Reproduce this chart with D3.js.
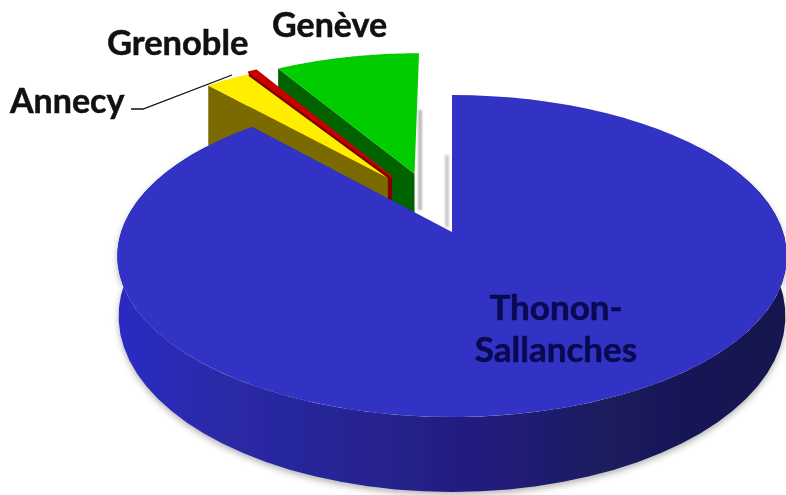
<!DOCTYPE html>
<html>
<head>
<meta charset="utf-8">
<script src="https://cdn.jsdelivr.net/npm/d3@7"></script>
<style>
  html, body { margin: 0; background: #fff; }
  text { font-family: Lato, "Open Sans", sans-serif; font-weight: 700; }
</style>
</head>
<body>
<div id="chart"></div>
<script>
// values (percent of the pie)
var cities = ["Thonon-Sallanches", "Annecy", "Grenoble", "Genève"];
var shares = [88.3, 2.6, 0.5, 8.6];

var width = 786, height = 495;

// colours per slice: top face, side wall
var topColors = ["#3030c4", "#ffee00", "#c80000", "#00cc00"];
var wallColors = ["#23238a", "#7a6a00", "#800000", "#006400"];

// how far each slice is pulled out, in what direction (degrees, clockwise from top), and its radius
var pullDist = [0, 0.415, 0.415, 0.41];
var pullDir = [0, -29.5, -27.4, -17];
var sliceRadius = [1, 0.97, 0.985, 0.975];

// pie plane -> screen, with some perspective (the far side is squeezed)
var cx = 452, cy = 232, rx = 331, ry = 157.4, persp = 0.149;
var frontWall = 75, backSliceWall = 60, bottomShrink = 0.996;

function toScreen(u, v, drop) {
  var w = 1 + persp * v;
  return [cx + rx * u / w, cy - ry * v / w + (drop || 0)];
}
function wallDrop(v) {
  var w = 1 + persp * v;
  return frontWall * Math.pow((1 - persp) / w, 1.6);
}

var svg = d3.select("#chart").append("svg")
  .attr("width", width)
  .attr("height", height)
  .style("display", "block");

var defs = svg.append("defs");
var grad = defs.append("linearGradient").attr("id", "rim")
  .attr("gradientUnits", "userSpaceOnUse")
  .attr("x1", 117).attr("x2", 786).attr("y1", 0).attr("y2", 0);
grad.append("stop").attr("offset", "0").attr("stop-color", "#2c2cc4");
grad.append("stop").attr("offset", "0.15").attr("stop-color", "#2a2aa8");
grad.append("stop").attr("offset", "0.35").attr("stop-color", "#262494");
grad.append("stop").attr("offset", "0.55").attr("stop-color", "#221c7c");
grad.append("stop").attr("offset", "0.75").attr("stop-color", "#1a1a5c");
grad.append("stop").attr("offset", "1").attr("stop-color", "#16164e");
defs.append("filter").attr("id", "soft")
  .attr("x", "-10%").attr("y", "-10%").attr("width", "120%").attr("height", "120%")
  .append("feGaussianBlur").attr("stdDeviation", 3);
defs.append("filter").attr("id", "jpeg")
  .append("feGaussianBlur").attr("stdDeviation", 0.5);
defs.append("filter").attr("id", "shade")
  .attr("x", "-100%").attr("width", "300%")
  .append("feGaussianBlur").attr("stdDeviation", 1.2);

var pie = d3.pie().sort(null).value(function(d) { return d; });
var arcs = pie(shares);
var line = d3.line();

function apexPoint(i) {
  var rad = pullDir[i] * Math.PI / 180;
  return [pullDist[i] * Math.sin(rad), pullDist[i] * Math.cos(rad)];
}
function outerPoint(i, a) {
  var ap = apexPoint(i);
  return [ap[0] + sliceRadius[i] * Math.sin(a), ap[1] + sliceRadius[i] * Math.cos(a)];
}
function topFace(i) {
  var d = arcs[i], n = 80;
  var pts = d3.range(n + 1).map(function(k) {
    var p = outerPoint(i, d.startAngle + (d.endAngle - d.startAngle) * k / n);
    return toScreen(p[0], p[1]);
  });
  var ap = apexPoint(i);
  pts.push(toScreen(ap[0], ap[1]));
  return line(pts) + "Z";
}
// the cut face on the start side of a pulled slice
function sideWall(i) {
  var ap = apexPoint(i), p = outerPoint(i, arcs[i].startAngle);
  return line([
    toScreen(ap[0], ap[1]), toScreen(p[0], p[1]),
    toScreen(p[0], p[1], backSliceWall), toScreen(ap[0], ap[1], backSliceWall)
  ]) + "Z";
}
// round front side of the big slice
function rimWall() {
  var a = d3.range(61).map(function(k) { return Math.PI * (0.3 + 1.4 * k / 60); });
  var up = a.map(function(t) { return toScreen(Math.sin(t), Math.cos(t)); });
  var down = a.slice().reverse().map(function(t) {
    return toScreen(bottomShrink * Math.sin(t), Math.cos(t), wallDrop(Math.cos(t)));
  });
  return line(up.concat(down)) + "Z";
}

var root = svg.append("g").attr("filter", "url(#jpeg)");

// soft shadows
root.append("path").attr("d", rimWall())
  .attr("fill", "#777").attr("opacity", 0.55)
  .attr("transform", "translate(0,3)").attr("filter", "url(#soft)");
root.append("rect").attr("x", 418).attr("y", 110).attr("width", 4).attr("height", 100)
  .attr("fill", "#bbb").attr("filter", "url(#shade)");
root.append("rect").attr("x", 445).attr("y", 155).attr("width", 4).attr("height", 72)
  .attr("fill", "#ccc").attr("filter", "url(#shade)");

// back to front: Genève, Grenoble, Annecy, then the big slice on top
[3, 2, 1].forEach(function(i) {
  root.append("path").attr("d", sideWall(i)).attr("fill", wallColors[i]);
  // the Grenoble sliver is a bit fatter and rounder in the original
  root.append("path").attr("d", topFace(i)).attr("fill", topColors[i])
    .attr("stroke", i === 2 ? topColors[i] : "none")
    .attr("stroke-width", 1.6).attr("stroke-linejoin", "round");
});
root.append("path").attr("d", rimWall()).attr("fill", "url(#rim)");
root.append("path").attr("d", topFace(0)).attr("fill", topColors[0]);

// leader line for Annecy
root.append("path")
  .attr("d", line([[131, 109], [143, 109], [232, 75]]))
  .attr("fill", "none").attr("stroke", "#111").attr("stroke-width", 1.3);

// labels
function label(x, y, str, color, size, anchor) {
  svg.append("text").attr("x", x).attr("y", y)
    .attr("text-anchor", anchor || "start")
    .attr("font-size", size)
    .attr("fill", color)
    .attr("stroke", color).attr("stroke-width", 0.5)
    .text(str);
}
label(10, 113, cities[1], "#111", 34);
label(107, 55, cities[2], "#111", 34.5);
label(272, 37, cities[3], "#111", 34);
var main = cities[0].split("-");
label(556, 320, main[0] + "-", "#0a0a50", 35, "middle");
label(556, 362, main[1], "#0a0a50", 35, "middle");
</script>
</body>
</html>
